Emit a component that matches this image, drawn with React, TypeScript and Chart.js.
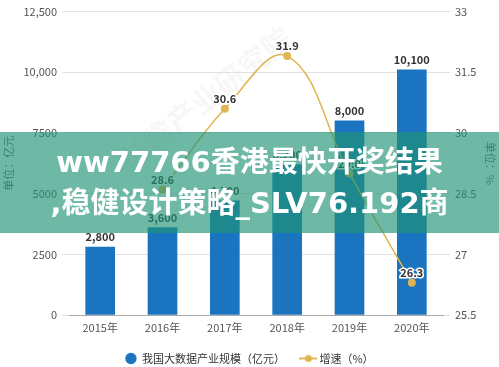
import React, { useEffect, useRef } from "react";
import { Chart, registerables } from "chart.js";
Chart.register(...registerables);

const categories = ["2015年", "2016年", "2017年", "2018年", "2019年", "2020年"];
const scaleValues = [2800, 3600, 4700, 6200, 8000, 10100];
const growthValues: (number | null)[] = [null, 28.6, 30.6, 31.9, 29.0, 26.3];
const leftTickLabels = ["0", "2500", "5000", "7500", "10,000", "12,500"];
const rightTickLabels = ["25.5", "27", "28.5", "30", "31.5", "33"];
const barLegend = "我国大数据产业规模（亿元）";
const lineLegend = "增速（%）";
const leftTitle = "单位：亿元";
const rightTitle = "单位：%";
const bannerLines = ["ww77766香港最快开奖结果", ",稳健设计策略_SLV76.192商"];
const watermark = "前瞻产业研究院";

const BLUE = "#1b74bf";
const GOLD = "#e0b550";
const FONT = '"Noto Sans CJK SC", "Noto Sans", sans-serif';

const labelPlugin = {
  id: "valueLabels",
  afterDatasetsDraw(chart: any) {
    const ctx = chart.ctx;
    ctx.save();
    ctx.font = `bold 11px ${FONT}`;
    ctx.textAlign = "center";
    ctx.textBaseline = "middle";
    chart.data.datasets.forEach((ds: any, di: number) => {
      const meta = chart.getDatasetMeta(di);
      meta.data.forEach((el: any, i: number) => {
        const v = ds.data[i];
        if (v === null || v === undefined) return;
        const txt = ds.type === "bar" ? Number(v).toLocaleString("en-US") : Number(v).toFixed(1);
        const y = el.y - 10;
        ctx.lineWidth = 3;
        ctx.strokeStyle = "#ffffff";
        ctx.strokeText(txt, el.x, y);
        ctx.fillStyle = "#333333";
        ctx.fillText(txt, el.x, y);
      });
    });
    ctx.restore();
  },
};

export default function App() {
  const ref = useRef<HTMLCanvasElement | null>(null);
  useEffect(() => {
    if (!ref.current) return;
    const mk = document.createElement("canvas");
    mk.width = 18;
    mk.height = 10;
    const m = mk.getContext("2d")!;
    m.strokeStyle = GOLD;
    m.lineWidth = 2;
    m.beginPath();
    m.moveTo(0, 5);
    m.lineTo(18, 5);
    m.stroke();
    m.fillStyle = GOLD;
    m.beginPath();
    m.arc(9, 5, 3.5, 0, Math.PI * 2);
    m.fill();

    const chart = new Chart(ref.current, {
      data: {
        labels: categories,
        datasets: [
          {
            type: "bar",
            label: barLegend,
            data: scaleValues,
            backgroundColor: BLUE,
            barThickness: 29,
            yAxisID: "y",
            order: 1,
          } as any,
          {
            type: "line",
            label: lineLegend,
            data: growthValues,
            borderColor: GOLD,
            backgroundColor: GOLD,
            borderWidth: 1.5,
            pointRadius: 4,
            pointBackgroundColor: GOLD,
            pointBorderWidth: 0,
            tension: 0.4,
            yAxisID: "y1",
            order: 0,
          } as any,
        ],
      },
      options: {
        animation: false,
        responsive: true,
        maintainAspectRatio: false,
        layout: { padding: { top: 9, left: 0, right: 0, bottom: -7 } },
        plugins: {
          tooltip: { enabled: false },
          legend: {
            position: "bottom",
            labels: {
              usePointStyle: true,
              boxHeight: 8,
              padding: 18,
              color: "#333",
              font: { family: FONT, size: 11 },
              generateLabels: () => [
                { text: barLegend, fillStyle: BLUE, strokeStyle: BLUE, lineWidth: 0, pointStyle: "circle", datasetIndex: 0, fontColor: "#333" } as any,
                { text: lineLegend, fillStyle: GOLD, strokeStyle: GOLD, lineWidth: 0, pointStyle: mk, datasetIndex: 1, fontColor: "#333" } as any,
              ],
            },
          },
        },
        scales: {
          x: {
            grid: { display: false, drawTicks: false },
            border: { display: true, color: "#aaaaaa" },
            ticks: { color: "#555", font: { family: FONT, size: 11 }, padding: 6 },
            afterFit: (s: any) => { s.height = 20; },
          },
          y: {
            position: "left",
            min: 0,
            max: 12500,
            grid: { color: "#e2e2e2", drawTicks: true, tickLength: 7 },
            border: { display: false },
            ticks: {
              stepSize: 2500,
              padding: 5,
              color: "#555",
              font: { family: FONT, size: 11 },
              callback: (_v: any, i: number) => leftTickLabels[i],
            },
            title: { display: true, text: leftTitle, color: "#666", font: { family: FONT, size: 11 }, padding: { top: 2, bottom: 0 } },
            afterFit: (s: any) => { s.width = 69; },
          },
          y1: {
            position: "right",
            min: 25.5,
            max: 33,
            grid: { color: "#e2e2e2", drawOnChartArea: false, drawTicks: true, tickLength: 7 },
            border: { display: false },
            ticks: {
              stepSize: 1.5,
              padding: 5,
              color: "#555",
              font: { family: FONT, size: 11 },
              callback: (_v: any, i: number) => rightTickLabels[i],
            },
            title: { display: true, text: rightTitle, color: "#666", font: { family: FONT, size: 11 }, padding: { top: 2, bottom: 0 } },
            afterFit: (s: any) => { s.width = 56; },
          },
        },
      } as any,
      plugins: [labelPlugin],
    });
    return () => chart.destroy();
  }, []);

  return (
    <div style={{ position: "fixed", left: 0, top: 0, width: 499, height: 367, background: "#fff", overflow: "hidden" }}>
      <div
        style={{
          position: "absolute",
          left: 100,
          top: 75,
          transform: "rotate(-38deg)",
          fontFamily: FONT,
          fontWeight: "bold",
          fontSize: 30,
          color: "rgba(0,0,0,0.05)",
          whiteSpace: "nowrap",
        }}
      >
        {watermark}
      </div>
      <canvas ref={ref} style={{ position: "absolute", left: 0, top: 0 }} width={499} height={367} />
      <div
        style={{
          position: "absolute",
          left: 0,
          top: 132,
          width: 499,
          height: 101,
          background: "rgba(32,148,117,0.65)",
          display: "flex",
          flexDirection: "column",
          justifyContent: "center",
          alignItems: "center",
          color: "#fff",
          fontFamily: '"DejaVu Sans", "Noto Sans CJK SC", sans-serif',
          fontWeight: "bold",
          fontSize: 29,
          lineHeight: "41px",
          whiteSpace: "nowrap",
        }}
      >
        {bannerLines.map((l, i) => (
          <div key={i}>{l}</div>
        ))}
      </div>
    </div>
  );
}
